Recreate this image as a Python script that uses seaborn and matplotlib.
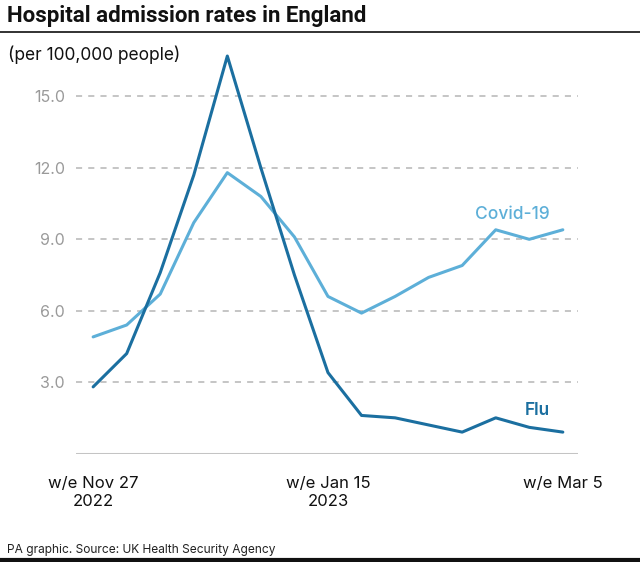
import numpy as np
import pandas as pd
import seaborn as sns
import matplotlib.pyplot as plt
from matplotlib.lines import Line2D

# weekly admission rates, w/e Nov 27 2022 .. w/e Mar 5 2023
weeks = ["Nov 27", "Dec 4", "Dec 11", "Dec 18", "Dec 25", "Jan 1", "Jan 8",
         "Jan 15", "Jan 22", "Jan 29", "Feb 5", "Feb 12", "Feb 19", "Feb 26", "Mar 5"]
flu = [2.8, 4.2, 7.6, 11.7, 16.7, 12.0, 7.5, 3.4, 1.6, 1.5, 1.2, 0.9, 1.5, 1.1, 0.9]
covid = [4.9, 5.4, 6.7, 9.7, 11.8, 10.8, 9.1, 6.6, 5.9, 6.6, 7.4, 7.9, 9.4, 9.0, 9.4]

tick_idx = [0, 7, 14]
tick_labels = ["w/e Nov 27\n2022", "w/e Jan 15\n2023", "w/e Mar 5"]
y_ticks = [3, 6, 9, 12, 15]

flu_col = "#1b6fa0"
covid_col = "#5dafd8"

df = pd.DataFrame({
    "week": list(range(len(weeks))) * 2,
    "rate": flu + covid,
    "series": ["Flu"] * len(weeks) + ["Covid-19"] * len(weeks),
})

sns.set_style("white")
plt.rcParams["font.family"] = ["Inter", "DejaVu Sans"]

fig = plt.figure(figsize=(6.4, 5.62), dpi=100)
ax = fig.add_axes([0.119, 0.193, 0.784, 0.72])

# gridlines first so lines sit on top
for v in y_ticks:
    ax.axhline(v, color="#b5b5b5", lw=1.1, ls=(0, (4, 4)), zorder=1)
ax.axhline(0, color="#c4c4c4", lw=2.2, zorder=1)

sns.lineplot(data=df, x="week", y="rate", hue="series",
             palette={"Flu": flu_col, "Covid-19": covid_col},
             hue_order=["Covid-19", "Flu"], lw=2.2, legend=False, ax=ax, zorder=3)

ax.set_xlim(-0.506, 14.45)
ax.set_ylim(0, 17)
ax.set_xticks(tick_idx)
ax.set_xticklabels(tick_labels, fontsize=12, color="#111111", linespacing=1.3)
ax.set_yticks(y_ticks)
ax.set_yticklabels([f"{v:.1f}" for v in y_ticks], fontsize=11.5, color="#9a9a9a")
ax.tick_params(axis="both", length=0)
ax.tick_params(axis="y", pad=8)
ax.tick_params(axis="x", pad=16)
ax.set_xlabel("")
ax.set_ylabel("")
for s in ax.spines.values():
    s.set_visible(False)

ax.text(12.5, 10.05, "Covid-19", color=covid_col, fontsize=12.5, fontweight="medium",
        ha="center", va="center")
ax.text(13.25, 1.8, "Flu", color=flu_col, fontsize=12.5, fontweight="semibold",
        ha="center", va="center")

fig.text(0.011, 0.972, "Hospital admission rates in England", fontsize=16,
         fontweight="semibold", family=["Roboto", "DejaVu Sans"],
         ha="left", va="center", color="#111111")
fig.add_artist(Line2D([0, 1], [0.943, 0.943], color="#222222", lw=1.3))
fig.text(0.013, 0.903, "(per 100,000 people)", fontsize=12.5, ha="left",
         va="center", color="#111111")
fig.text(0.011, 0.022, "PA graphic. Source: UK Health Security Agency",
         fontsize=8.6, ha="left", va="center", color="#222222")
fig.add_artist(Line2D([0, 1], [0.003, 0.003], color="#111111", lw=3))

fig.savefig("out.png", dpi=100)
